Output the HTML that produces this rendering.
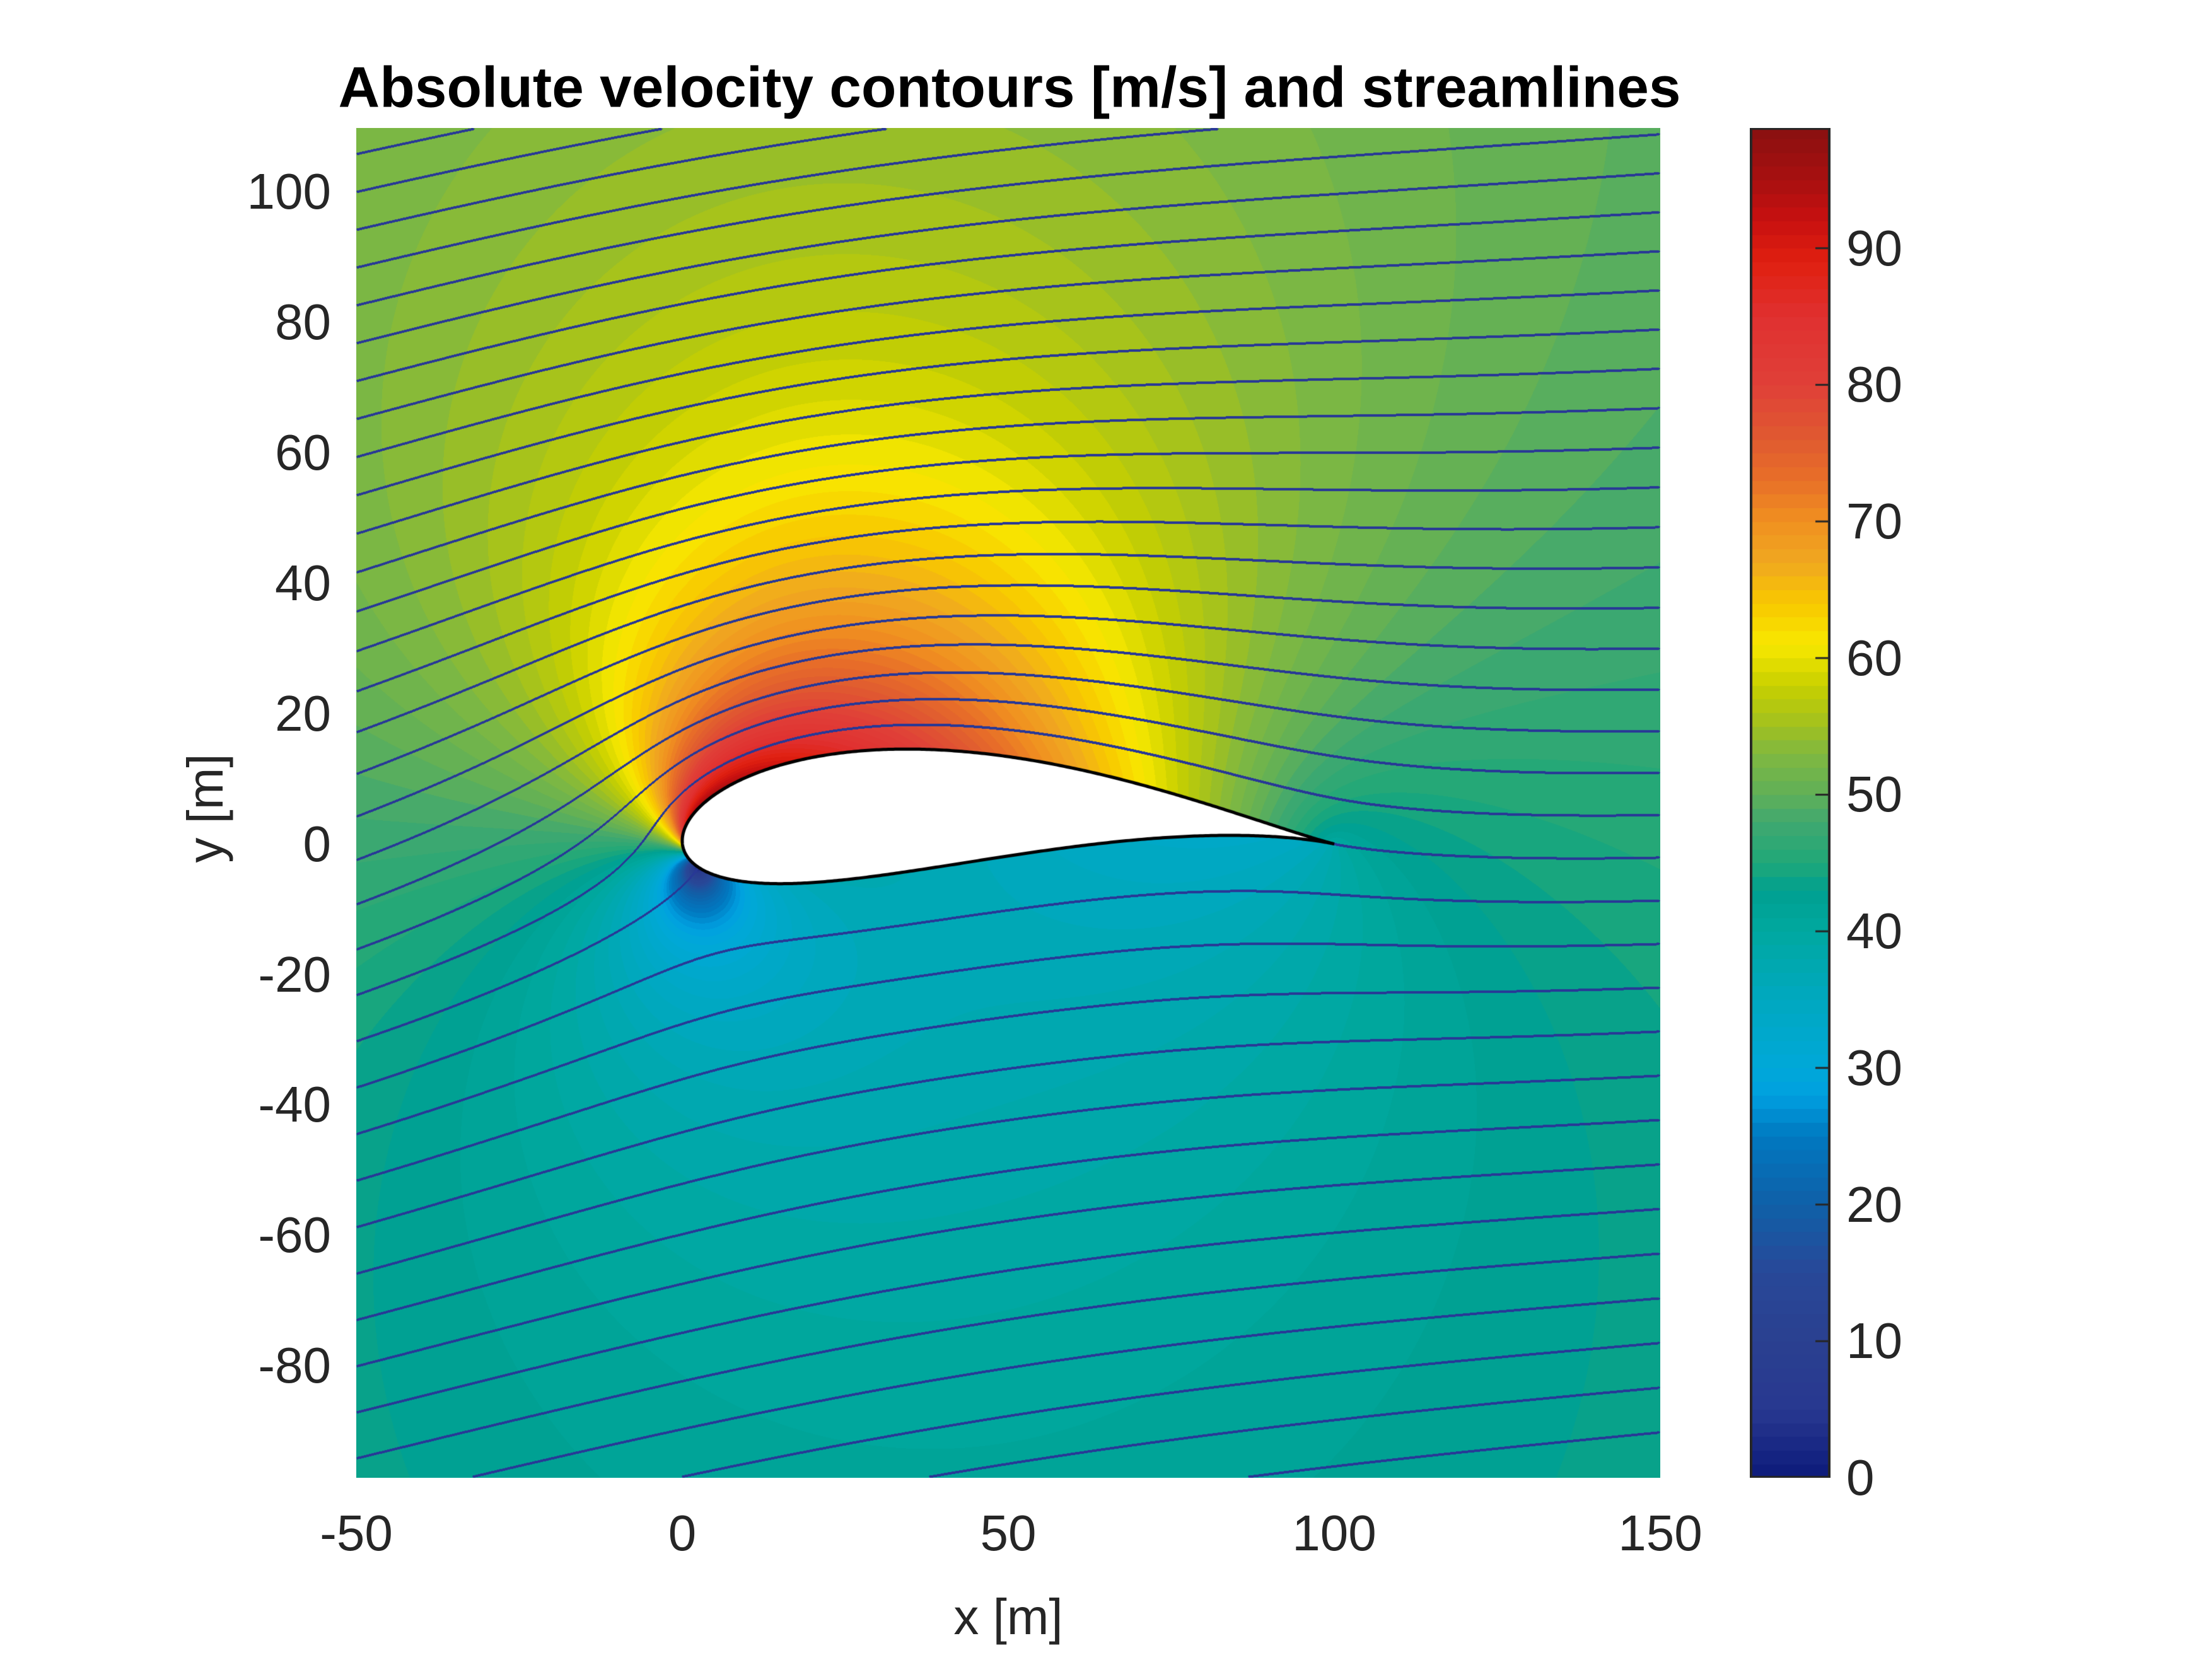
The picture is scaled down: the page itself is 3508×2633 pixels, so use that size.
<!DOCTYPE html>
<html><head><meta charset="utf-8">
<style>
html,body{margin:0;padding:0;background:#fff;}
#root{position:relative;width:3508px;height:2633px;background:#fff;font-family:"Liberation Sans",sans-serif;color:#262626;overflow:hidden;}
.t{position:absolute;font-size:80px;white-space:nowrap;line-height:1;}
canvas{position:absolute;}
</style></head><body>
<div id="root">
<div class="t" style="left:1601px;top:139px;transform:translate(-50%,-50%);font-weight:bold;font-size:91px;color:#000;">Absolute velocity contours [m/s] and streamlines</div>
<canvas id="field" style="left:565px;top:203px;" width="2068" height="2141"></canvas>
<canvas id="cbar" style="left:2775px;top:203px;" width="128" height="2141"></canvas>
<div class="t" style="left:1599px;top:2565px;transform:translate(-50%,-50%);">x [m]</div>
<div class="t" style="left:326px;top:1282px;transform:translate(-50%,-50%) rotate(-90deg);">y [m]</div>
</div>
<script>
// chart data
const xTicks = [-50, 0, 50, 100, 150];
const yTicks = [-80, -60, -40, -20, 0, 20, 40, 60, 80, 100];
const cbarTicks = [0, 10, 20, 30, 40, 50, 60, 70, 80, 90];
const cmapValues = [0, 5, 10, 15, 20, 25, 28, 30, 35, 40, 43, 45, 48, 50, 53, 55, 58, 61, 64, 67, 70, 73, 76, 80, 85, 89, 92, 95, 98.8];
const cmapColors = ["#0c1a7a","#283890","#2a4090","#284898","#1060a8","#0078c0","#00a0e0","#00a8d8","#00a8c0","#00a8a0","#00a090","#20a878","#40a870","#60b058","#80b840","#a0c020","#c8d000","#f8e800","#f8c800","#f0a820","#f09020","#e87028","#e05a30","#e04038","#e03030","#e02010","#c81010","#a81010","#8a1010"];
const flowParams = {U: 47, alphaDeg: 9, a: 25, mx: 4.4, my: 3.4, streamSpacing: 6.3};

const X0=565, X1=2633, Y0=203, Y1=2344;
const xMin=-50, xMax=150, yMax=109.8, yMin=-97.2;
const cMin=0, cMax=98.8;
function sx(v){return X0+(v-xMin)/(xMax-xMin)*(X1-X0);}
function sy(v){return Y0+(yMax-v)/(yMax-yMin)*(Y1-Y0);}
function sc(v){return Y0+(cMax-v)/(cMax-cMin)*(Y1-Y0);}

function hex(h){return [parseInt(h.substr(1,2),16),parseInt(h.substr(3,2),16),parseInt(h.substr(5,2),16)];}
const cmapRGB=cmapColors.map(hex);
function cmap(v){
  v=Math.floor(Math.max(0,Math.min(98.5,v)))+0.5;
  for(let i=0;i<cmapValues.length-1;i++){
    if(v<=cmapValues[i+1]){const t=(v-cmapValues[i])/(cmapValues[i+1]-cmapValues[i]);
      const a=cmapRGB[i],b=cmapRGB[i+1];return [a[0]+(b[0]-a[0])*t,a[1]+(b[1]-a[1])*t,a[2]+(b[2]-a[2])*t];}
  }
  return cmapRGB[cmapRGB.length-1];
}

const root=document.getElementById('root');
xTicks.forEach(v=>{
  const d=document.createElement('div');d.className='t';
  
  
  d.style.left=sx(v)+'px';d.style.top='2432px';d.style.transform='translate(-50%,-50%)';
  d.textContent=v;root.appendChild(d);
});
yTicks.forEach(v=>{
  const d=document.createElement('div');d.className='t';
  
  
  d.style.right=(3508-525)+'px';d.style.top=sy(v)+'px';d.style.transform='translateY(-50%)';
  d.textContent=v;root.appendChild(d);
});
cbarTicks.forEach(v=>{
  const d=document.createElement('div');d.className='t';
  
  
  d.style.left='2928px';d.style.top=sc(v)+'px';d.style.transform='translateY(-50%)';
  d.textContent=v;root.appendChild(d);
});

(function(){
  const c=document.getElementById('cbar'),g=c.getContext('2d');
  const H=c.height;
  for(let y=0;y<H;y++){const v=cMax-(y/H)*(cMax-cMin);const col=cmap(v);
    g.fillStyle='rgb('+col.map(Math.round).join(',')+')';g.fillRect(0,y,128,1);}
  g.strokeStyle='#262626';g.lineWidth=4;g.strokeRect(2,1,124,H-2);
  g.lineWidth=3;
  cbarTicks.forEach(v=>{const y=sc(v)-Y0;g.beginPath();g.moveTo(104,y);g.lineTo(126,y);g.stroke();});
})();

(function(){
  const P=flowParams, al=P.alphaDeg*Math.PI/180, a=P.a, cx=-P.mx, cy=P.my;
  const R=Math.hypot(a-cx,cy), beta=Math.asin(cy/R);
  const G=4*Math.PI*R*Math.sin(al+beta);
  const ca=Math.cos(al), sa=Math.sin(al), R2=R*R;
  let zxmin=1e9,zxmax=-1e9;const outline=[];
  for(let i=0;i<=720;i++){const th=i/720*2*Math.PI;const x=cx+R*Math.cos(th),y=cy+R*Math.sin(th);
    const d=x*x+y*y;const zx=x+a*a*x/d, zy=y-a*a*y/d;outline.push([zx,zy]);
    if(zx<zxmin)zxmin=zx;if(zx>zxmax)zxmax=zx;}
  const s=(zxmax-zxmin)/100;
  const c=document.getElementById('field'),g=c.getContext('2d');
  const W=c.width,H=c.height;
  const img=g.createImageData(W,H),D=img.data;
  const band=new Int32Array(W*H);
  const inside=new Uint8Array(W*H);
  const psiB=G/(2*Math.PI)*Math.log(R);
  for(let py=0;py<H;py++){
    const Y=yMax-(py+0.5)/H*(yMax-yMin);
    for(let px=0;px<W;px++){
      const X=xMin+(px+0.5)/W*(xMax-xMin);
      const zx=X*s+zxmin, zy=Y*s;
      const qx=zx*zx-zy*zy-4*a*a, qy=2*zx*zy;
      const m=Math.hypot(qx,qy);
      let rx=Math.sqrt((m+qx)/2), ry=Math.sqrt(Math.max(0,(m-qx)/2)); if(qy<0)ry=-ry;
      let z1x=(zx+rx)/2,z1y=(zy+ry)/2,z2x=(zx-rx)/2,z2y=(zy-ry)/2;
      const o1=Math.hypot(z1x-cx,z1y-cy)>=R, o2=Math.hypot(z2x-cx,z2y-cy)>=R;
      let ex,ey;
      const k=py*W+px;
      if(o1&&o2){if(z1x*z1x+z1y*z1y>=z2x*z2x+z2y*z2y){ex=z1x;ey=z1y;}else{ex=z2x;ey=z2y;}}
      else if(o1){ex=z1x;ey=z1y;} else if(o2){ex=z2x;ey=z2y;}
      else {inside[k]=1;band[k]=-99999;D[k*4]=255;D[k*4+1]=255;D[k*4+2]=255;D[k*4+3]=255;continue;}
      const px_=ex-cx, py_=ey-cy, r2=px_*px_+py_*py_;
      const i2x=(px_*px_-py_*py_)/(r2*r2), i2y=-2*px_*py_/(r2*r2);
      let wx=ca - R2*(ca*i2x - sa*i2y), wy=-sa - R2*(ca*i2y + sa*i2x);
      const k2=G/(2*Math.PI*r2);
      wx+= k2*py_; wy+= k2*px_;
      const e2=ex*ex+ey*ey;
      const jx=1-a*a*(ex*ex-ey*ey)/(e2*e2), jy=2*a*a*ex*ey/(e2*e2);
      let sp=Math.hypot(wx,wy)/Math.max(1e-3,Math.hypot(jx,jy))*P.U;
      if(!isFinite(sp))sp=50;
      const psi=(py_*ca - px_*sa) + R2*(sa*px_ - ca*py_)/r2 + G/(2*Math.PI)*0.5*Math.log(r2);
      band[k]=Math.floor(((psi-psiB)/s)/P.streamSpacing);
      const col=cmap(sp);
      D[k*4]=col[0];D[k*4+1]=col[1];D[k*4+2]=col[2];D[k*4+3]=255;
    }
  }
  const mark=new Uint8Array(W*H);
  for(let py=1;py<H-2;py++)for(let px=1;px<W-2;px++){
    const k=py*W+px;if(inside[k])continue;
    const b=band[k];
    if((!inside[k+1]&&band[k+1]!==b)||(!inside[k+W]&&band[k+W]!==b)){
      mark[k]=1;mark[k+1]=1;mark[k+W]=1;mark[k+W+1]=1;mark[k-1]=1;mark[k-W]=1;mark[k+2]=1;mark[k+2*W]=1;}
  }
  for(let k=0;k<W*H;k++){if(mark[k]&&!inside[k]){D[k*4]=40;D[k*4+1]=56;D[k*4+2]=150;}}
  g.putImageData(img,0,0);
  g.strokeStyle='#000';g.lineWidth=5;g.beginPath();
  outline.forEach((p,i)=>{const X=(p[0]-zxmin)/s,Y=p[1]/s;const x=sx(X)-X0,y=sy(Y)-Y0;if(i)g.lineTo(x,y);else g.moveTo(x,y);});
  g.closePath();g.stroke();
})();
</script>
</body></html>
